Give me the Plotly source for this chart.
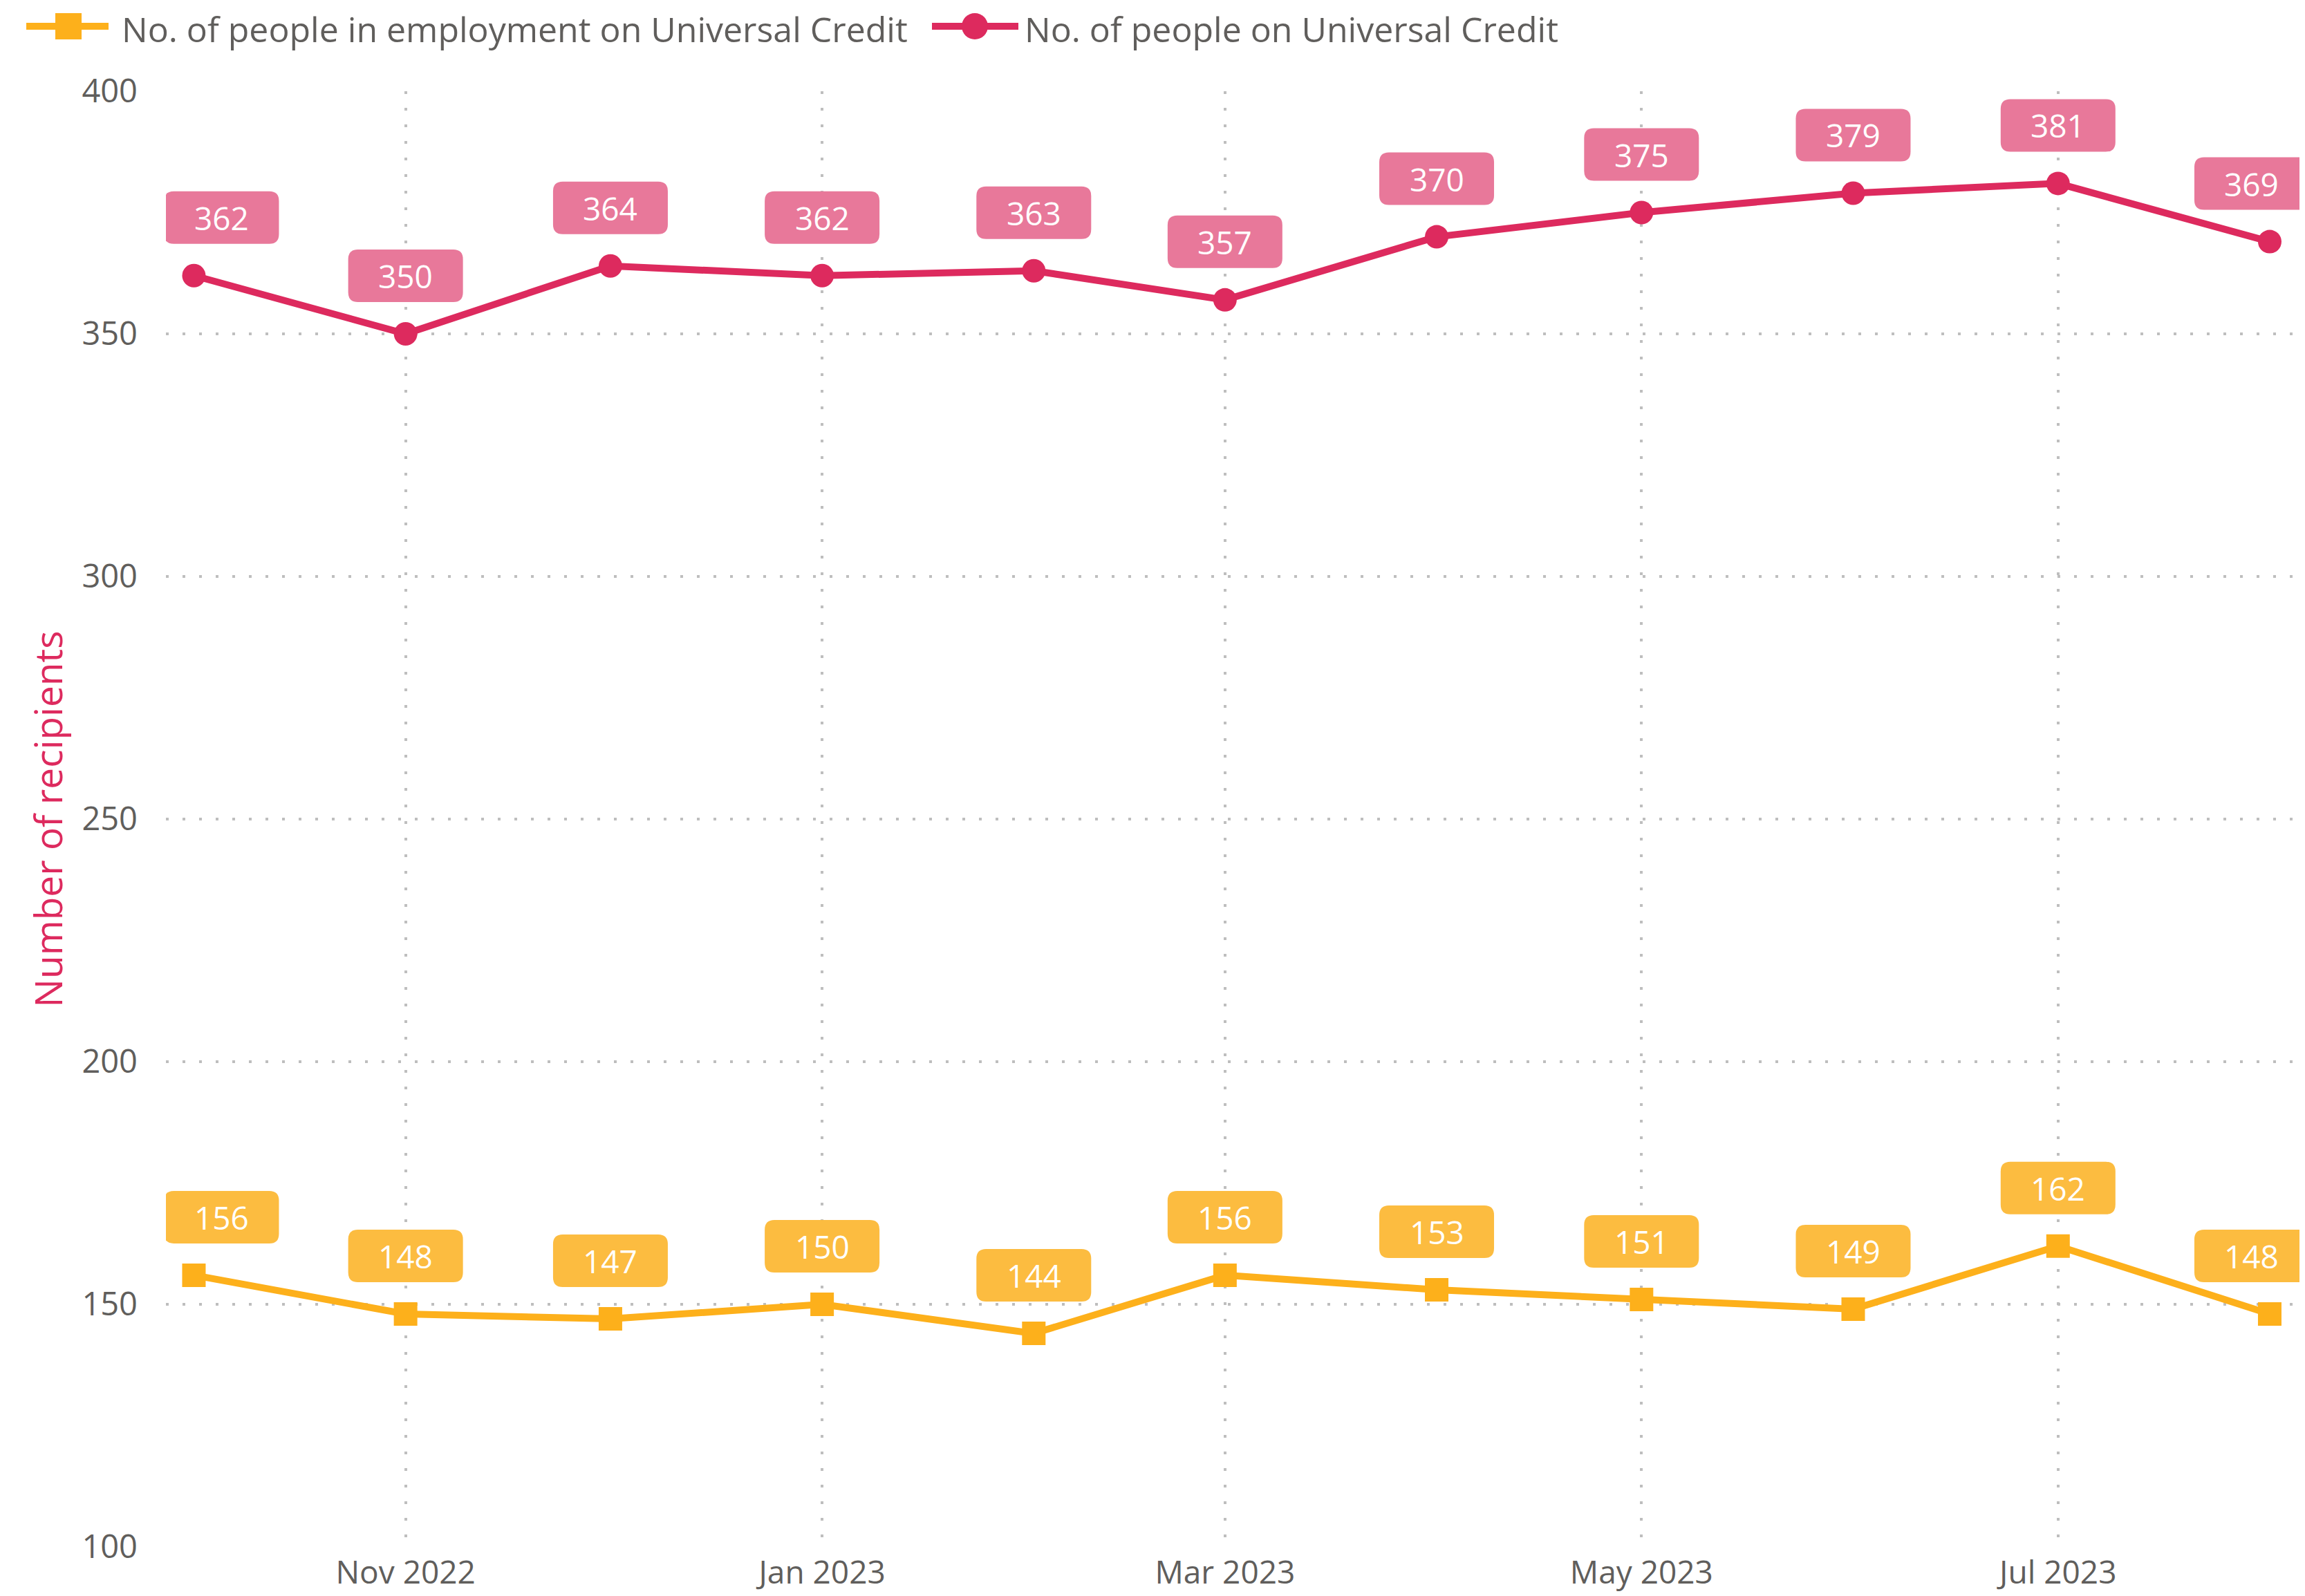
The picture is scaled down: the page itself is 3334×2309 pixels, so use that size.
import plotly.graph_objects as go

# ---- data ----
months = ["2022-10-01", "2022-11-01", "2022-12-01", "2023-01-01", "2023-02-01",
          "2023-03-01", "2023-04-01", "2023-05-01", "2023-06-01", "2023-07-01",
          "2023-08-01"]
in_employment = [156, 148, 147, 150, 144, 156, 153, 151, 149, 162, 148]
on_uc = [362, 350, 364, 362, 363, 357, 370, 375, 379, 381, 369]
series_names = ["No. of people in employment on Universal Credit",
                "No. of people on Universal Credit"]
y_ticks = [100, 150, 200, 250, 300, 350, 400]

# ---- style ----
# the page body has an 8px default margin, so the figure is 8px smaller
W, H = 3326, 2301
ML, MR, MT, MB = 232, 0, 124, 71
FONT = "Open Sans"
GREY = "#605E5C"
GRID = "#BEBEBE"
YEL, YEL_BOX = "#FDB01B", "#FCBC40"
PINK, PINK_BOX = "#DD2A5E", "#E8789A"
BOX_W, BOX_H, BOX_R, BOX_DY = 166, 76, 14, 84

fig = go.Figure()
fig.add_trace(go.Scatter(x=months, y=in_employment, mode="lines+markers",
                         name=series_names[0],
                         line=dict(color=YEL, width=10),
                         marker=dict(symbol="square", size=34, color=YEL)))
fig.add_trace(go.Scatter(x=months, y=on_uc, mode="lines+markers",
                         name=series_names[1],
                         line=dict(color=PINK, width=10),
                         marker=dict(symbol="circle", size=34, color=PINK)))


def rrect(cx, cy, w, h, r):
    x0, x1 = cx - w / 2, cx + w / 2
    y0, y1 = cy - h / 2, cy + h / 2
    return (f"M{x0 + r},{y0} L{x1 - r},{y0} Q{x1},{y0} {x1},{y0 + r} "
            f"L{x1},{y1 - r} Q{x1},{y1} {x1 - r},{y1} L{x0 + r},{y1} "
            f"Q{x0},{y1} {x0},{y1 - r} L{x0},{y0 + r} Q{x0},{y0} {x0 + r},{y0} Z")


shapes = []
annotations = []
n = len(months)
for vals, box_col in ((in_employment, YEL_BOX), (on_uc, PINK_BOX)):
    for i, (d, v) in enumerate(zip(months, vals)):
        dx = 40 if i == 0 else (-26 if i == n - 1 else 0)
        shapes.append(dict(type="path", xref="x", yref="y",
                           xsizemode="pixel", ysizemode="pixel",
                           xanchor=d, yanchor=v,
                           path=rrect(dx, BOX_DY, BOX_W, BOX_H, BOX_R),
                           fillcolor=box_col, line=dict(width=0), layer="above"))
        annotations.append(dict(x=d, y=v, xref="x", yref="y", text=str(v),
                                showarrow=False, xshift=dx, yshift=BOX_DY,
                                xanchor="center", yanchor="middle",
                                font=dict(family=FONT, size=46, color="white")))

# ---- custom legend (pixel offsets from top-left of plot area) ----
leg_y = 94
legend_items = [
    dict(line=(-202, -83), mx=-141, sym="rect", col=YEL, tx=-66, name=series_names[0]),
    dict(line=(1108, 1233), mx=1170, sym="circle", col=PINK, tx=1240, name=series_names[1]),
]
for it in legend_items:
    shapes.append(dict(type="line", xref="paper", yref="paper",
                       xsizemode="pixel", ysizemode="pixel", xanchor=0, yanchor=1,
                       x0=it["line"][0], x1=it["line"][1], y0=leg_y, y1=leg_y,
                       line=dict(color=it["col"], width=10)))
    s = 19
    shapes.append(dict(type=it["sym"], xref="paper", yref="paper",
                       xsizemode="pixel", ysizemode="pixel", xanchor=0, yanchor=1,
                       x0=it["mx"] - s, x1=it["mx"] + s, y0=leg_y - s, y1=leg_y + s,
                       fillcolor=it["col"], line=dict(width=0)))
    annotations.append(dict(x=0, y=1, xref="paper", yref="paper", text=it["name"],
                            showarrow=False, xshift=it["tx"], yshift=leg_y - 4,
                            xanchor="left", yanchor="middle",
                            font=dict(family=FONT, size=50, color=GREY)))

fig.update_layout(
    width=W, height=H,
    margin=dict(l=ML, r=MR, t=MT, b=MB),
    plot_bgcolor="white", paper_bgcolor="white",
    showlegend=False,
    font=dict(family=FONT, color=GREY, size=47),
    shapes=shapes, annotations=annotations,
)
fig.update_xaxes(type="date", range=["2022-09-26 21:40", "2023-08-06 04:00"],
                 tick0="2022-11-01", dtick="M2", tickformat="%b %Y",
                 showgrid=True, gridcolor=GRID, gridwidth=4, griddash="4px,20px",
                 showline=False, zeroline=False, ticks="", ticklabelstandoff=6,
                 automargin=False,
                 tickfont=dict(family=FONT, size=46, color=GREY))
fig.update_yaxes(range=[100, 400], tickvals=y_ticks,
                 showgrid=True, gridcolor=GRID, gridwidth=4, griddash="4px,20px",
                 showline=False, zeroline=False, ticks="", ticklabelstandoff=40,
                 automargin=False,
                 tickfont=dict(family=FONT, size=47, color=GREY),
                 title=dict(text="Number of recipients", standoff=10,
                            font=dict(family=FONT, size=55, color=PINK)))

fig.write_html("out.html")
